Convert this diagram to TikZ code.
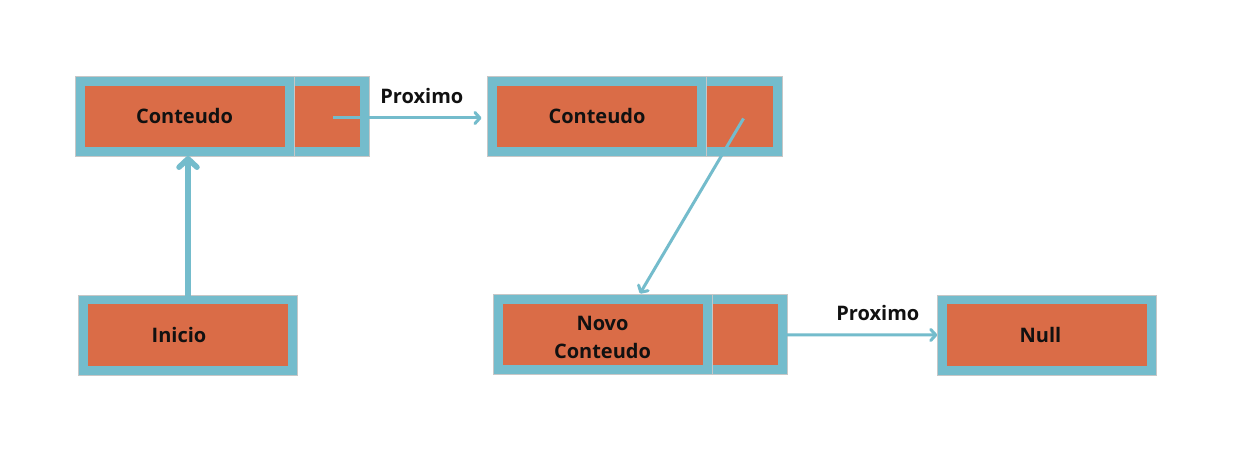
\documentclass[tikz,border=0pt]{standalone}
\usepackage{fontspec}
\setmainfont{Open Sans}
\usetikzlibrary{arrows.meta,calc}
\definecolor{cellblue}{RGB}{116,188,204}
\definecolor{cellorange}{RGB}{218,108,71}
\definecolor{inktext}{RGB}{17,17,17}
\begin{document}
\begin{tikzpicture}[x=1pt,y=-1pt,
  cell/.style={rectangle, fill=cellorange, draw=cellblue, line width=9.5pt, inner sep=0pt, outer sep=0pt, minimum height=70.5pt, text=inktext, font=\fontsize{20}{28}\selectfont\bfseries, align=center},
  maincell/.style={cell, minimum width=209.5pt},
  ptrcell/.style={cell, minimum width=75.5pt},
  link/.style={draw=cellblue, line width=3pt, -{Straight Barb[length=5pt,width=11pt,round]}},
  startlink/.style={draw=cellblue, line width=5.5pt, -{Straight Barb[length=8.5pt,width=18pt,round]}},
  lbl/.style={text=inktext, font=\fontsize{20}{24}\selectfont\bfseries, inner sep=0pt},
  rim/.style={draw=black!22, line width=0.7pt}
]
\fill[white] (0,0) rectangle (1237,470);
\useasboundingbox (0,0) rectangle (1237,470);

% cells
\node[maincell] (m1) at (184.5,116.5) {Conteudo};
\node[ptrcell, anchor=west] (p1) at (m1.east) {};
\node[maincell] (m2) at (597,116.5) {Conteudo};
\node[ptrcell, anchor=west] (p2) at (m2.east) {};
\node[maincell] (m3) at (602.5,334.75) {\rule{0pt}{20.5pt}Novo\\Conteudo};
\node[ptrcell, anchor=west] (p3) at (m3.east) {};
\node[maincell] (ini) at (188,335) {Inicio\hspace*{18pt}};
\node[maincell] (nl) at (1046.5,335) {Null\hspace*{12pt}};

% thin rims
\foreach \a/\b in {m1/p1, m2/p2, m3/p3, ini/ini, nl/nl}{
  \draw[rim] ($(\a.north west)+(-4.75,-4.75)$) rectangle ($(\b.south east)+(4.75,4.75)$);
}
\foreach \p in {p1,p2,p3}{
  \draw[rim] ($(\p.north west)+(4.75,-4.75)$) -- ($(\p.south west)+(4.75,4.75)$);
}

% connectors
\draw[startlink, shorten >=4.25pt] (ini.north) -- (ini.north |- m1.south);
\draw[link, shorten >=10.8pt] ($(p1.center)+(6,1.5)$) -- (m2.west |- {$(p1.center)+(6,1.5)$})
  node[lbl, pos=0.558, anchor=south, yshift=12.8pt] (lab1) {Proximo};
\draw[link] ($(p2.center)+(4,2)$) -- ($(m3.north)+(37.5,-6)$);
\draw[link, shorten >=4.5pt] (p3.east) -- (nl.west)
  node[lbl, pos=0.598, anchor=south, yshift=12.8pt] (lab2) {Proximo};
\end{tikzpicture}
\end{document}
